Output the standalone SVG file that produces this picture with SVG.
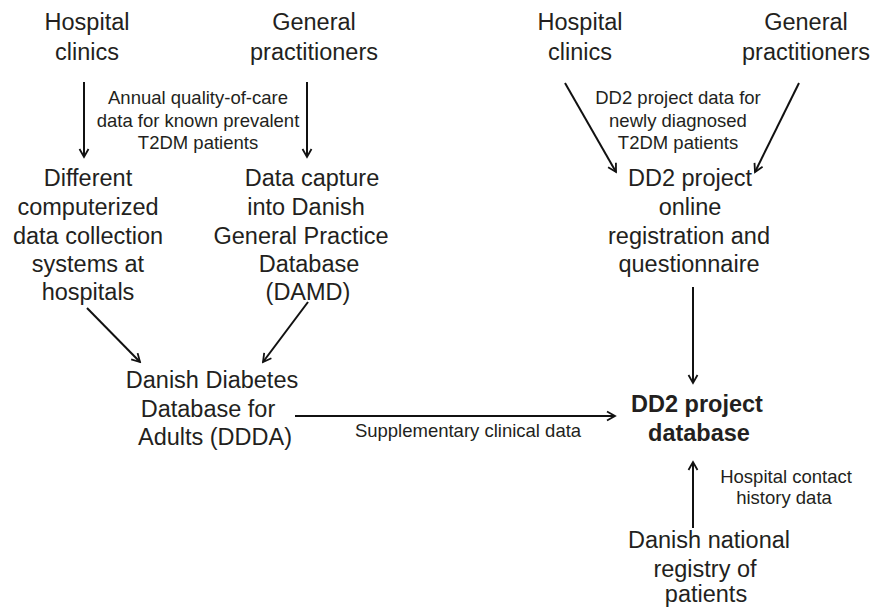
<svg xmlns="http://www.w3.org/2000/svg" width="871" height="608" viewBox="0 0 871 608">
<defs>
<style>
.t{font-family:"Liberation Sans",Arial,sans-serif;font-size:23.5px;fill:#231f20;text-anchor:middle}
.s{font-family:"Liberation Sans",Arial,sans-serif;font-size:18.5px;fill:#231f20;text-anchor:middle}
.b{font-family:"Liberation Sans",Arial,sans-serif;font-size:23.5px;font-weight:bold;fill:#231f20;text-anchor:middle}
.c{stroke:#111;stroke-width:2;fill:none;marker-end:url(#ah)}
</style>
<marker id="ah" viewBox="0 0 12 12" refX="10" refY="6" markerWidth="12" markerHeight="12" markerUnits="userSpaceOnUse" orient="auto">
<path d="M2,1.5 L10,6 L2,10.5" fill="none" stroke="#111" stroke-width="1.8"/>
</marker>
</defs>
<rect width="871" height="608" fill="#fff"/>
<g id="connectors">
<line class="c" x1="84" y1="82" x2="84" y2="157"/>
<line class="c" x1="307" y1="82" x2="307" y2="157"/>
<line class="c" x1="87" y1="308" x2="140" y2="362"/>
<line class="c" x1="308" y1="302" x2="263" y2="362"/>
<line class="c" x1="295" y1="416" x2="615" y2="416"/>
<line class="c" x1="565" y1="83" x2="616" y2="172"/>
<line class="c" x1="799" y1="83" x2="755" y2="172"/>
<line class="c" x1="693" y1="287" x2="693" y2="383"/>
<line class="c" x1="693" y1="528" x2="693" y2="462"/>
<text class="s" x="198"><tspan x="198" y="104">Annual quality-of-care</tspan><tspan x="198" y="127">data for known prevalent</tspan><tspan x="198" y="149">T2DM patients</tspan></text>
<text class="s" x="678"><tspan x="678" y="104">DD2 project data for</tspan><tspan x="678" y="127">newly diagnosed</tspan><tspan x="678" y="149">T2DM patients</tspan></text>
<text class="s" x="468" y="437">Supplementary clinical data</text>
<text class="s" x="786"><tspan x="786" y="483">Hospital contact</tspan><tspan x="784" y="504">history data</tspan></text>
</g>
<g id="hospital-clinics-1">
<text class="t"><tspan x="87" y="30">Hospital</tspan><tspan x="87" y="60">clinics</tspan></text>
</g>
<g id="general-practitioners-1">
<text class="t"><tspan x="314" y="30">General</tspan><tspan x="314" y="60">practitioners</tspan></text>
</g>
<g id="hospital-systems">
<text class="t"><tspan x="88" y="186">Different</tspan><tspan x="88" y="215">computerized</tspan><tspan x="88" y="244">data collection</tspan><tspan x="88" y="272">systems at</tspan><tspan x="88" y="300">hospitals</tspan></text>
</g>
<g id="damd">
<text class="t"><tspan x="312" y="186">Data capture</tspan><tspan x="306" y="215">into Danish</tspan><tspan x="301" y="244">General Practice</tspan><tspan x="309" y="272">Database</tspan><tspan x="308" y="300">(DAMD)</tspan></text>
</g>
<g id="ddda">
<text class="t"><tspan x="212" y="388">Danish Diabetes</tspan><tspan x="208" y="417">Database for</tspan><tspan x="215" y="445">Adults (DDDA)</tspan></text>
</g>
<g id="hospital-clinics-2">
<text class="t"><tspan x="580" y="30">Hospital</tspan><tspan x="580" y="60">clinics</tspan></text>
</g>
<g id="general-practitioners-2">
<text class="t"><tspan x="806" y="30">General</tspan><tspan x="806" y="60">practitioners</tspan></text>
</g>
<g id="dd2-online">
<text class="t"><tspan x="690" y="186">DD2 project</tspan><tspan x="690" y="215">online</tspan><tspan x="689" y="244">registration and</tspan><tspan x="689" y="272">questionnaire</tspan></text>
</g>
<g id="dd2-database">
<text class="b"><tspan x="697" y="412">DD2 project</tspan><tspan x="699" y="441">database</tspan></text>
</g>
<g id="national-registry">
<text class="t"><tspan x="709" y="548">Danish national</tspan><tspan x="705" y="577">registry of</tspan><tspan x="706" y="602">patients</tspan></text>
</g>
</svg>
